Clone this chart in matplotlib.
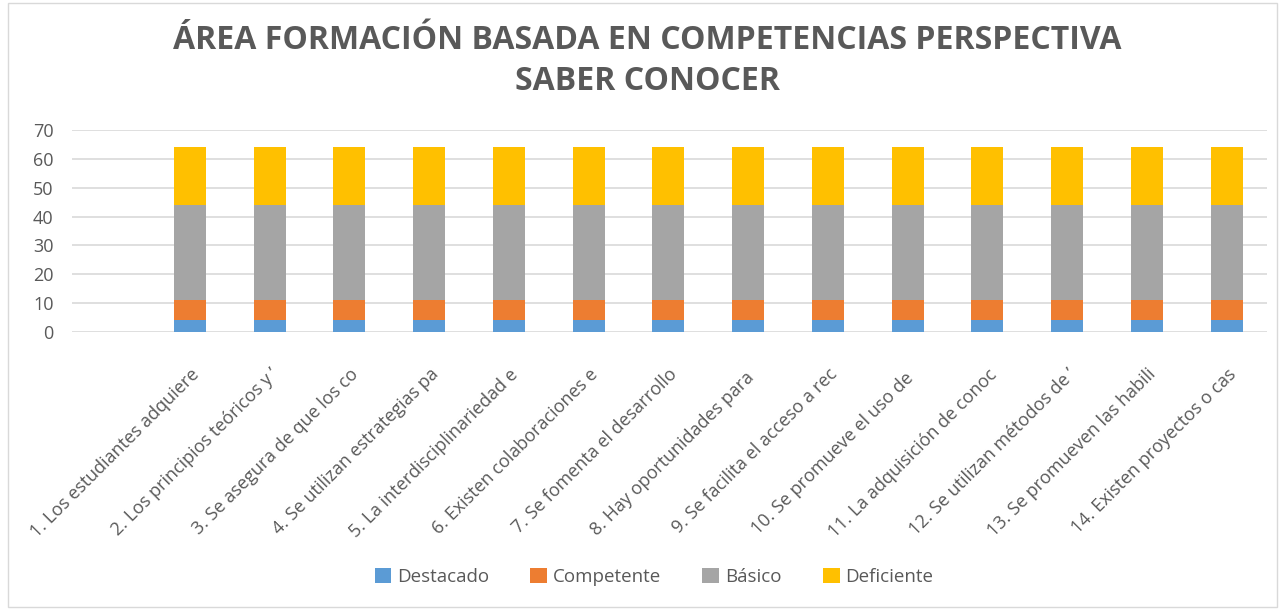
import matplotlib
matplotlib.use("Agg")
import matplotlib.pyplot as plt
from matplotlib.patches import Rectangle

# Data
labels = [
    "1. Los estudiantes adquiere",
    "2. Los principios teóricos y \u2019",
    "3. Se asegura de que los co",
    "4. Se utilizan estrategias pa",
    "5. La interdisciplinariedad e",
    "6. Existen colaboraciones e",
    "7. Se fomenta el desarrollo",
    "8. Hay oportunidades para ",
    "9. Se facilita el acceso a rec",
    "10. Se promueve el uso de ",
    "11. La adquisición de conoc",
    "12. Se utilizan métodos de \u2019",
    "13. Se promueven las habili",
    "14. Existen proyectos o cas",
]
destacado = [4] * 14
competente = [7] * 14
basico = [33] * 14
deficiente = [20] * 14

series = ["Destacado", "Competente", "Básico", "Deficiente"]
colors = ["#5B9BD5", "#ED7D31", "#A5A5A5", "#FFC000"]
text_color = "#595959"

plt.rcParams["font.family"] = ["Open Sans", "DejaVu Sans"]

fig = plt.figure(figsize=(12.82, 6.10), dpi=100)
ax = fig.add_axes([0.056, 0.4557, 0.932, 0.3312])

x = list(range(len(labels)))
bottom = [0] * len(labels)
for name, vals, c in zip(series, [destacado, competente, basico, deficiente], colors):
    ax.bar(x, vals, width=0.4, bottom=bottom, color=c, label=name, zorder=3)
    bottom = [b + v for b, v in zip(bottom, vals)]

ax.set_ylim(0, 70)
ax.set_yticks(range(0, 71, 10))
ax.set_xlim(-1.48, 13.5)
ax.grid(axis="y", color="#D9D9D9", linewidth=1.2, zorder=0)
for s in ax.spines.values():
    s.set_visible(False)
ax.tick_params(axis="both", length=0, labelsize=13, colors=text_color)
ax.tick_params(axis="y", pad=13)
ax.set_xticks(x)
ax.set_xticklabels(labels, rotation=45, ha="right", rotation_mode="anchor")
ax.tick_params(axis="x", pad=24)

fig.text(0.505, 0.900, "ÁREA FORMACIÓN BASADA EN COMPETENCIAS PERSPECTIVA\nSABER CONOCER",
         ha="center", va="center", fontsize=23, fontweight="bold", color=text_color,
         linespacing=1.35)

fig.legend(loc="center", bbox_to_anchor=(0.51, 0.054), ncol=4, frameon=False,
           fontsize=13.5, handlelength=0.9, handleheight=0.9, handletextpad=0.3,
           columnspacing=2.2, labelcolor=text_color)

fig.patches.append(Rectangle((0.006, 0.005), 0.99, 0.99, transform=fig.transFigure,
                             fill=False, edgecolor="#D9D9D9", linewidth=1))

fig.savefig("out.png", dpi=100)
